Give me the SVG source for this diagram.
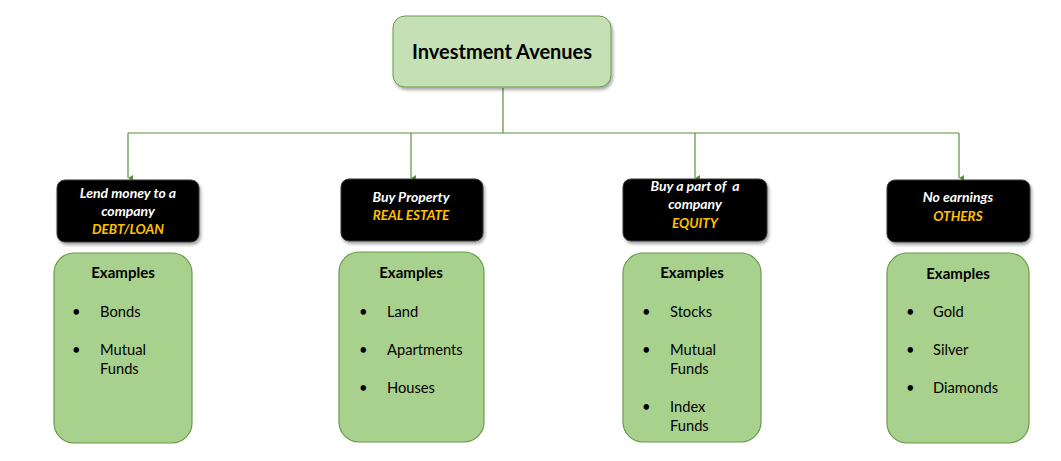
<svg xmlns="http://www.w3.org/2000/svg" width="1061" height="461" viewBox="0 0 1061 461">
<defs>
<filter id="sh" x="-10%" y="-10%" width="130%" height="140%">
<feDropShadow dx="1.5" dy="2.5" stdDeviation="1.5" flood-color="#000" flood-opacity="0.35"/>
</filter>
<marker id="ar" markerWidth="8" markerHeight="8" refX="4" refY="6" orient="auto" markerUnits="userSpaceOnUse" viewBox="0 0 8 8">
<path d="M1,1 L4,6 L7,1 Z" fill="#5b8f3a"/>
</marker>
<style>
.top{fill:#c5e0b4;stroke:#6a9a48;stroke-width:1}
.blk{fill:#000;stroke:#3a3a3a;stroke-width:1}
.grn{fill:#a9d18e;stroke:#6a9a48;stroke-width:1.2}
.conn{stroke:#5b8f3a;stroke-width:1.2;fill:none}
text{font-family:Lato,"Open Sans","Liberation Sans",sans-serif}
.title{font-size:20px;font-weight:bold;fill:#000}
.w{font-size:14px;font-weight:bold;font-style:italic;fill:#fff}
.y{font-size:13.5px;font-weight:bold;font-style:italic;fill:#ffc000}
.ex{font-size:15px;font-weight:bold;fill:#000}
.it{font-size:14.7px;fill:#000}
</style>
</defs>
<g id="connectors">
<path class="conn" d="M503,88 V133 M128,133 H959"/>
<path class="conn" d="M128,133 V178" marker-end="url(#ar)"/>
<path class="conn" d="M411,133 V178" marker-end="url(#ar)"/>
<path class="conn" d="M695,133 V178" marker-end="url(#ar)"/>
<path class="conn" d="M959,133 V178" marker-end="url(#ar)"/>
</g>
<g id="root">
<rect class="top" x="393" y="16" width="218" height="71" rx="12" filter="url(#sh)"/>
<text class="title" x="502" y="59" text-anchor="middle">Investment Avenues</text>
</g>
<g id="debt">
<rect class="blk" x="57" y="180" width="142" height="62" rx="8" filter="url(#sh)"/>
<text class="w" x="128" y="198" text-anchor="middle">Lend money to a</text>
<text class="w" x="128" y="216" text-anchor="middle">company</text>
<text class="y" x="128" y="234" text-anchor="middle">DEBT/LOAN</text>
</g>
<g id="realestate">
<rect class="blk" x="341" y="179" width="142" height="62" rx="8" filter="url(#sh)"/>
<text class="w" x="411" y="202" text-anchor="middle">Buy Property</text>
<text class="y" x="411" y="220" text-anchor="middle">REAL ESTATE</text>
</g>
<g id="equity">
<rect class="blk" x="623" y="179" width="144" height="62" rx="8" filter="url(#sh)"/>
<text class="w" x="695" y="191" text-anchor="middle" xml:space="preserve">Buy a part of  a</text>
<text class="w" x="695" y="209" text-anchor="middle">company</text>
<text class="y" x="695" y="228" text-anchor="middle">EQUITY</text>
</g>
<g id="others">
<rect class="blk" x="887" y="180" width="143" height="62" rx="8" filter="url(#sh)"/>
<text class="w" x="958" y="202" text-anchor="middle">No earnings</text>
<text class="y" x="958" y="221" text-anchor="middle">OTHERS</text>
</g>
<g id="debt-examples">
<rect class="grn" x="54" y="253" width="138" height="190" rx="20"/>
<text class="ex" x="123" y="278" text-anchor="middle">Examples</text>
<text class="it" x="72" y="317">•</text><text class="it" x="100" y="317">Bonds</text>
<text class="it" x="72" y="355">•</text><text class="it" x="100" y="355">Mutual</text>
<text class="it" x="100" y="374">Funds</text>
</g>
<g id="realestate-examples">
<rect class="grn" x="339" y="252" width="145" height="190" rx="20"/>
<text class="ex" x="411" y="278" text-anchor="middle">Examples</text>
<text class="it" x="359" y="317">•</text><text class="it" x="387" y="317">Land</text>
<text class="it" x="359" y="355">•</text><text class="it" x="387" y="355">Apartments</text>
<text class="it" x="359" y="393">•</text><text class="it" x="387" y="393">Houses</text>
</g>
<g id="equity-examples">
<rect class="grn" x="623" y="253" width="138" height="189" rx="20"/>
<text class="ex" x="692" y="278" text-anchor="middle">Examples</text>
<text class="it" x="642" y="317">•</text><text class="it" x="670" y="317">Stocks</text>
<text class="it" x="642" y="355">•</text><text class="it" x="670" y="355">Mutual</text>
<text class="it" x="670" y="374">Funds</text>
<text class="it" x="642" y="412">•</text><text class="it" x="670" y="412">Index</text>
<text class="it" x="670" y="431">Funds</text>
</g>
<g id="others-examples">
<rect class="grn" x="887" y="253" width="142" height="190" rx="20"/>
<text class="ex" x="958" y="279" text-anchor="middle">Examples</text>
<text class="it" x="906" y="317">•</text><text class="it" x="933" y="317">Gold</text>
<text class="it" x="906" y="355">•</text><text class="it" x="933" y="355">Silver</text>
<text class="it" x="906" y="393">•</text><text class="it" x="933" y="393">Diamonds</text>
</g>
</svg>
